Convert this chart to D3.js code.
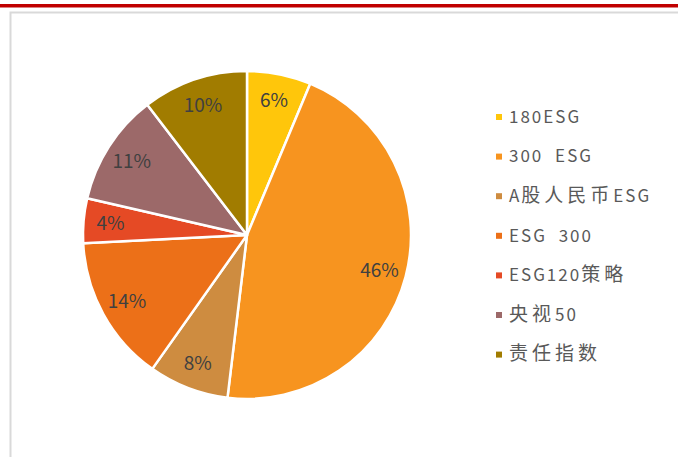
<!DOCTYPE html>
<html>
<head>
<meta charset="utf-8">
<script src="https://cdn.jsdelivr.net/npm/d3@7"></script>
<style>
  body { margin: 0; background: #fff; }
  svg { display: block; }
</style>
</head>
<body>
<div id="chart"></div>
<script>
// 数据
const names  = ["180ESG", "300 ESG", "A股人民币ESG", "ESG 300", "ESG120策略", "央视50", "责任指数"];
const shares = [6.3, 45.6, 7.9, 14.4, 4.4, 11.0, 10.4];
const colors = ["#FFC60B", "#F7941F", "#CE8C40", "#EC7018", "#E54A25", "#9C6969", "#A17C00"];

const W = 678, H = 457;
const cx = 247, cy = 235, r = 164;

const svg = d3.select("#chart").append("svg")
    .attr("width", W)
    .attr("height", H);

// 顶部红线和灰色边框
svg.append("rect").attr("x", 0).attr("y", 4).attr("width", W).attr("height", 3.5).attr("fill", "#C00000");
svg.append("path")
   .attr("d", `M10.5,${H} V12.5 H${W}`)
   .attr("fill", "none")
   .attr("stroke", "#D9D9D9")
   .attr("stroke-width", 2);

const data = names.map((n, i) => ({ name: n, value: shares[i], color: colors[i] }));

const pie = d3.pie().value(d => d.value).sort(null);
const arc = d3.arc().innerRadius(0).outerRadius(r);
const labelArc = d3.arc().innerRadius(137).outerRadius(137);

const g = svg.append("g").attr("transform", `translate(${cx},${cy})`);

g.selectAll("path.slice")
  .data(pie(data))
  .join("path")
  .attr("class", "slice")
  .attr("d", arc)
  .attr("fill", d => d.data.color)
  .attr("stroke", "#fff")
  .attr("stroke-width", 2.5)
  .attr("stroke-linejoin", "round");

g.selectAll("text.lbl")
  .data(pie(data))
  .join("text")
  .attr("class", "lbl")
  .attr("transform", d => `translate(${labelArc.centroid(d)})`)
  .attr("text-anchor", "middle")
  .attr("dy", "0.35em")
  .style("font-family", "'Noto Sans CJK SC', 'Noto Sans', sans-serif")
  .style("font-size", "19px")
  .style("fill", "#404040")
  .text(d => Math.round(d.data.value) + "%");

// 图例
const legend = svg.append("g").attr("transform", "translate(496,117)");
const rowH = 39.6;

const item = legend.selectAll("g")
  .data(data)
  .join("g")
  .attr("transform", (d, i) => `translate(0,${i * rowH})`);

item.append("rect")
    .attr("x", 0).attr("y", -3)
    .attr("width", 6).attr("height", 6)
    .attr("fill", d => d.color);

// 中文字符用大一点的字号和间距
const isCJK = /[\u4e00-\u9fff]/;
item.append("text")
    .attr("x", 13)
    .attr("dy", "0.36em")
    .style("font-family", "'Noto Sans CJK SC', 'Noto Sans', sans-serif")
    .style("fill", "#595959")
    .style("white-space", "pre")
    .selectAll("tspan")
    .data(d => d.name.match(/[\u4e00-\u9fff]+|[^\u4e00-\u9fff]+/g))
    .join("tspan")
    .style("font-size", s => isCJK.test(s) ? "19px" : "17px")
    .style("letter-spacing", s => isCJK.test(s) ? "4px" : "2px")
    .style("word-spacing", "6px")
    .text(s => s);
</script>
</body>
</html>
